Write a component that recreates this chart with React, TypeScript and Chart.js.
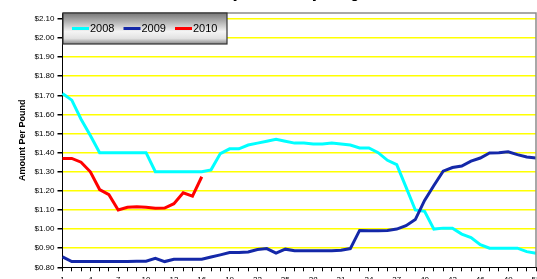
import React, { useEffect, useRef } from "react";
import { Chart, registerables } from "chart.js";

Chart.register(...registerables);

const TITLE = "Nonfat Dry Milk Mostly Range";
const Y_TITLE = "Amount Per Pound";

const weeks = [
  "1", "2", "3", "4", "5", "6", "7", "8", "9", "10", "11", "12", "13",
  "14", "15", "16", "17", "18", "19", "20", "21", "22", "23", "24", "25", "26",
  "27", "28", "29", "30", "31", "32", "33", "34", "35", "36", "37", "38", "39",
  "40", "41", "42", "43", "44", "45", "46", "47", "48", "49", "50", "51", "52",
];

const yTicks = [0.8, 0.9, 1.0, 1.1, 1.2, 1.3, 1.4, 1.5, 1.6, 1.7, 1.8, 1.9, 2.0, 2.1];

const series2008 = [
  1.71, 1.675, 1.575, 1.49, 1.4, 1.4, 1.4, 1.4, 1.4, 1.4, 1.3, 1.3, 1.3,
  1.3, 1.3, 1.3, 1.31, 1.395, 1.42, 1.42, 1.44, 1.45, 1.46, 1.47, 1.46, 1.45,
  1.45, 1.445, 1.445, 1.45, 1.445, 1.44, 1.425, 1.425, 1.4, 1.36, 1.337, 1.22, 1.1,
  1.093, 1.0, 1.005, 1.005, 0.974, 0.956, 0.918, 0.9, 0.9, 0.9, 0.9, 0.882, 0.874,
];

const series2009 = [
  0.855, 0.83, 0.83, 0.83, 0.83, 0.83, 0.83, 0.831, 0.832, 0.832, 0.847, 0.83, 0.842,
  0.842, 0.842, 0.842, 0.854, 0.865, 0.877, 0.878, 0.88, 0.893, 0.898, 0.874, 0.895, 0.887,
  0.887, 0.887, 0.887, 0.887, 0.889, 0.898, 0.993, 0.991, 0.991, 0.993, 1.0, 1.018, 1.05,
  1.15, 1.228, 1.303, 1.322, 1.33, 1.356, 1.372, 1.398, 1.4, 1.405, 1.39, 1.377, 1.372,
];

const series2010 = [
  1.37, 1.37, 1.35, 1.3, 1.207, 1.18, 1.1, 1.114, 1.117, 1.114, 1.109, 1.11, 1.133,
  1.19, 1.172, 1.274,
];

const seriesLabels = ["2008", "2009", "2010"];
const seriesColors = ["#00FFFF", "#1428A8", "#FF0000"];

const FONT = "'Liberation Sans', Arial, Helvetica, sans-serif";

const frame = {
  id: "frame",
  afterDraw(chart: any) {
    const { ctx, chartArea } = chart;
    ctx.save();
    ctx.strokeStyle = "#8c8c8c";
    ctx.lineWidth = 1.5;
    ctx.beginPath();
    ctx.moveTo(chartArea.left, chartArea.top);
    ctx.lineTo(chartArea.right, chartArea.top);
    ctx.lineTo(chartArea.right, chartArea.bottom);
    ctx.stroke();
    ctx.restore();
  },
};

const boxLegend = {
  id: "boxLegend",
  afterDraw(chart: any) {
    const { ctx, chartArea } = chart;
    const x = chartArea.left + 0.5;
    const y = chartArea.top;
    const w = 164;
    const h = 31;
    ctx.save();
    const g = ctx.createLinearGradient(0, y, 0, y + h);
    g.addColorStop(0, "#777777");
    g.addColorStop(0.6, "#f4f4f4");
    g.addColorStop(0.82, "#e2e2e2");
    g.addColorStop(1, "#8a8a8a");
    ctx.fillStyle = g;
    ctx.fillRect(x, y, w, h);
    ctx.strokeStyle = "#333333";
    ctx.lineWidth = 1.2;
    ctx.strokeRect(x, y, w, h);
    const cy = y + 15.5;
    ctx.font = `11px ${FONT}`;
    ctx.textBaseline = "middle";
    ctx.fillStyle = "#000";
    chart.data.datasets.forEach((ds: any, i: number) => {
      const sx = x + 9 + i * 51.5;
      ctx.strokeStyle = ds.borderColor;
      ctx.lineWidth = 3;
      ctx.beginPath();
      ctx.moveTo(sx, cy);
      ctx.lineTo(sx + 17, cy);
      ctx.stroke();
      ctx.fillStyle = "#000";
      ctx.fillText(ds.label, sx + 18, cy + 0.5);
    });
    ctx.restore();
  },
};

export default function App() {
  const ref = useRef<HTMLCanvasElement>(null);

  useEffect(() => {
    if (!ref.current) return;
    Chart.defaults.font.family = FONT;
    const chart = new Chart(ref.current, {
      type: "line",
      data: {
        labels: weeks,
        datasets: [series2008, series2009, series2010].map((d, i) => ({
          label: seriesLabels[i],
          data: d,
          borderColor: seriesColors[i],
          backgroundColor: seriesColors[i],
          borderWidth: 3,
          pointRadius: 0,
          tension: 0,
          fill: false,
          order: 2 - i,
        })),
      },
      options: {
        responsive: false,
        animation: false,
        layout: { padding: { left: 0, right: 24, top: 0, bottom: 0 } },
        plugins: {
          legend: { display: false },
          tooltip: { enabled: false },
          title: {
            display: true,
            text: TITLE,
            color: "#000",
            font: { size: 14, weight: "bold", family: FONT },
            padding: { top: 15.6, bottom: 10.6 },
          },
        },
        scales: {
          x: {
            type: "category",
            offset: false,
            afterFit(scale: any) {
              scale.height = 20.7;
            },
            grid: {
              display: true,
              drawOnChartArea: false,
              drawTicks: true,
              tickLength: 4,
              tickColor: "#000",
            },
            border: { display: true, color: "#000", width: 1 },
            ticks: {
              autoSkip: false,
              maxRotation: 0,
              minRotation: 0,
              padding: 3.5,
              color: "#000",
              font: { size: 8 },
              callback: (_v: any, i: number) => (i % 3 === 0 ? weeks[i] : ""),
            },
          },
          y: {
            min: 0.8,
            max: 2.131,
            afterFit(scale: any) {
              scale.width = 62.5;
            },
            afterBuildTicks(scale: any) {
              scale.ticks = yTicks.map((v) => ({ value: v }));
            },
            grid: {
              color: (c: any) =>
                c.tick && Math.abs(c.tick.value - 0.8) < 1e-6 ? "rgba(0,0,0,0)" : "#FFFF00",
              lineWidth: 1.5,
              tickColor: "#000",
              tickLength: 5,
            },
            border: { display: true, color: "#000", width: 1 },
            title: {
              display: true,
              text: Y_TITLE,
              color: "#000",
              font: { size: 9, weight: "bold", family: FONT },
              padding: { top: 17, bottom: 0 },
            },
            ticks: {
              padding: 3,
              color: "#000",
              font: { size: 8 },
              callback: (v: any) => "$" + Number(v).toFixed(2),
            },
          },
        },
      },
      plugins: [frame, boxLegend],
    });
    return () => chart.destroy();
  }, []);

  return (
    <div
      style={{
        position: "fixed",
        left: 0,
        top: 0,
        width: 537,
        height: 279,
        overflow: "hidden",
        background: "#fff",
      }}
    >
      <canvas
        ref={ref}
        width={560}
        height={318}
        style={{ position: "absolute", left: 0, top: -30, width: 560, height: 318 }}
      />
    </div>
  );
}
